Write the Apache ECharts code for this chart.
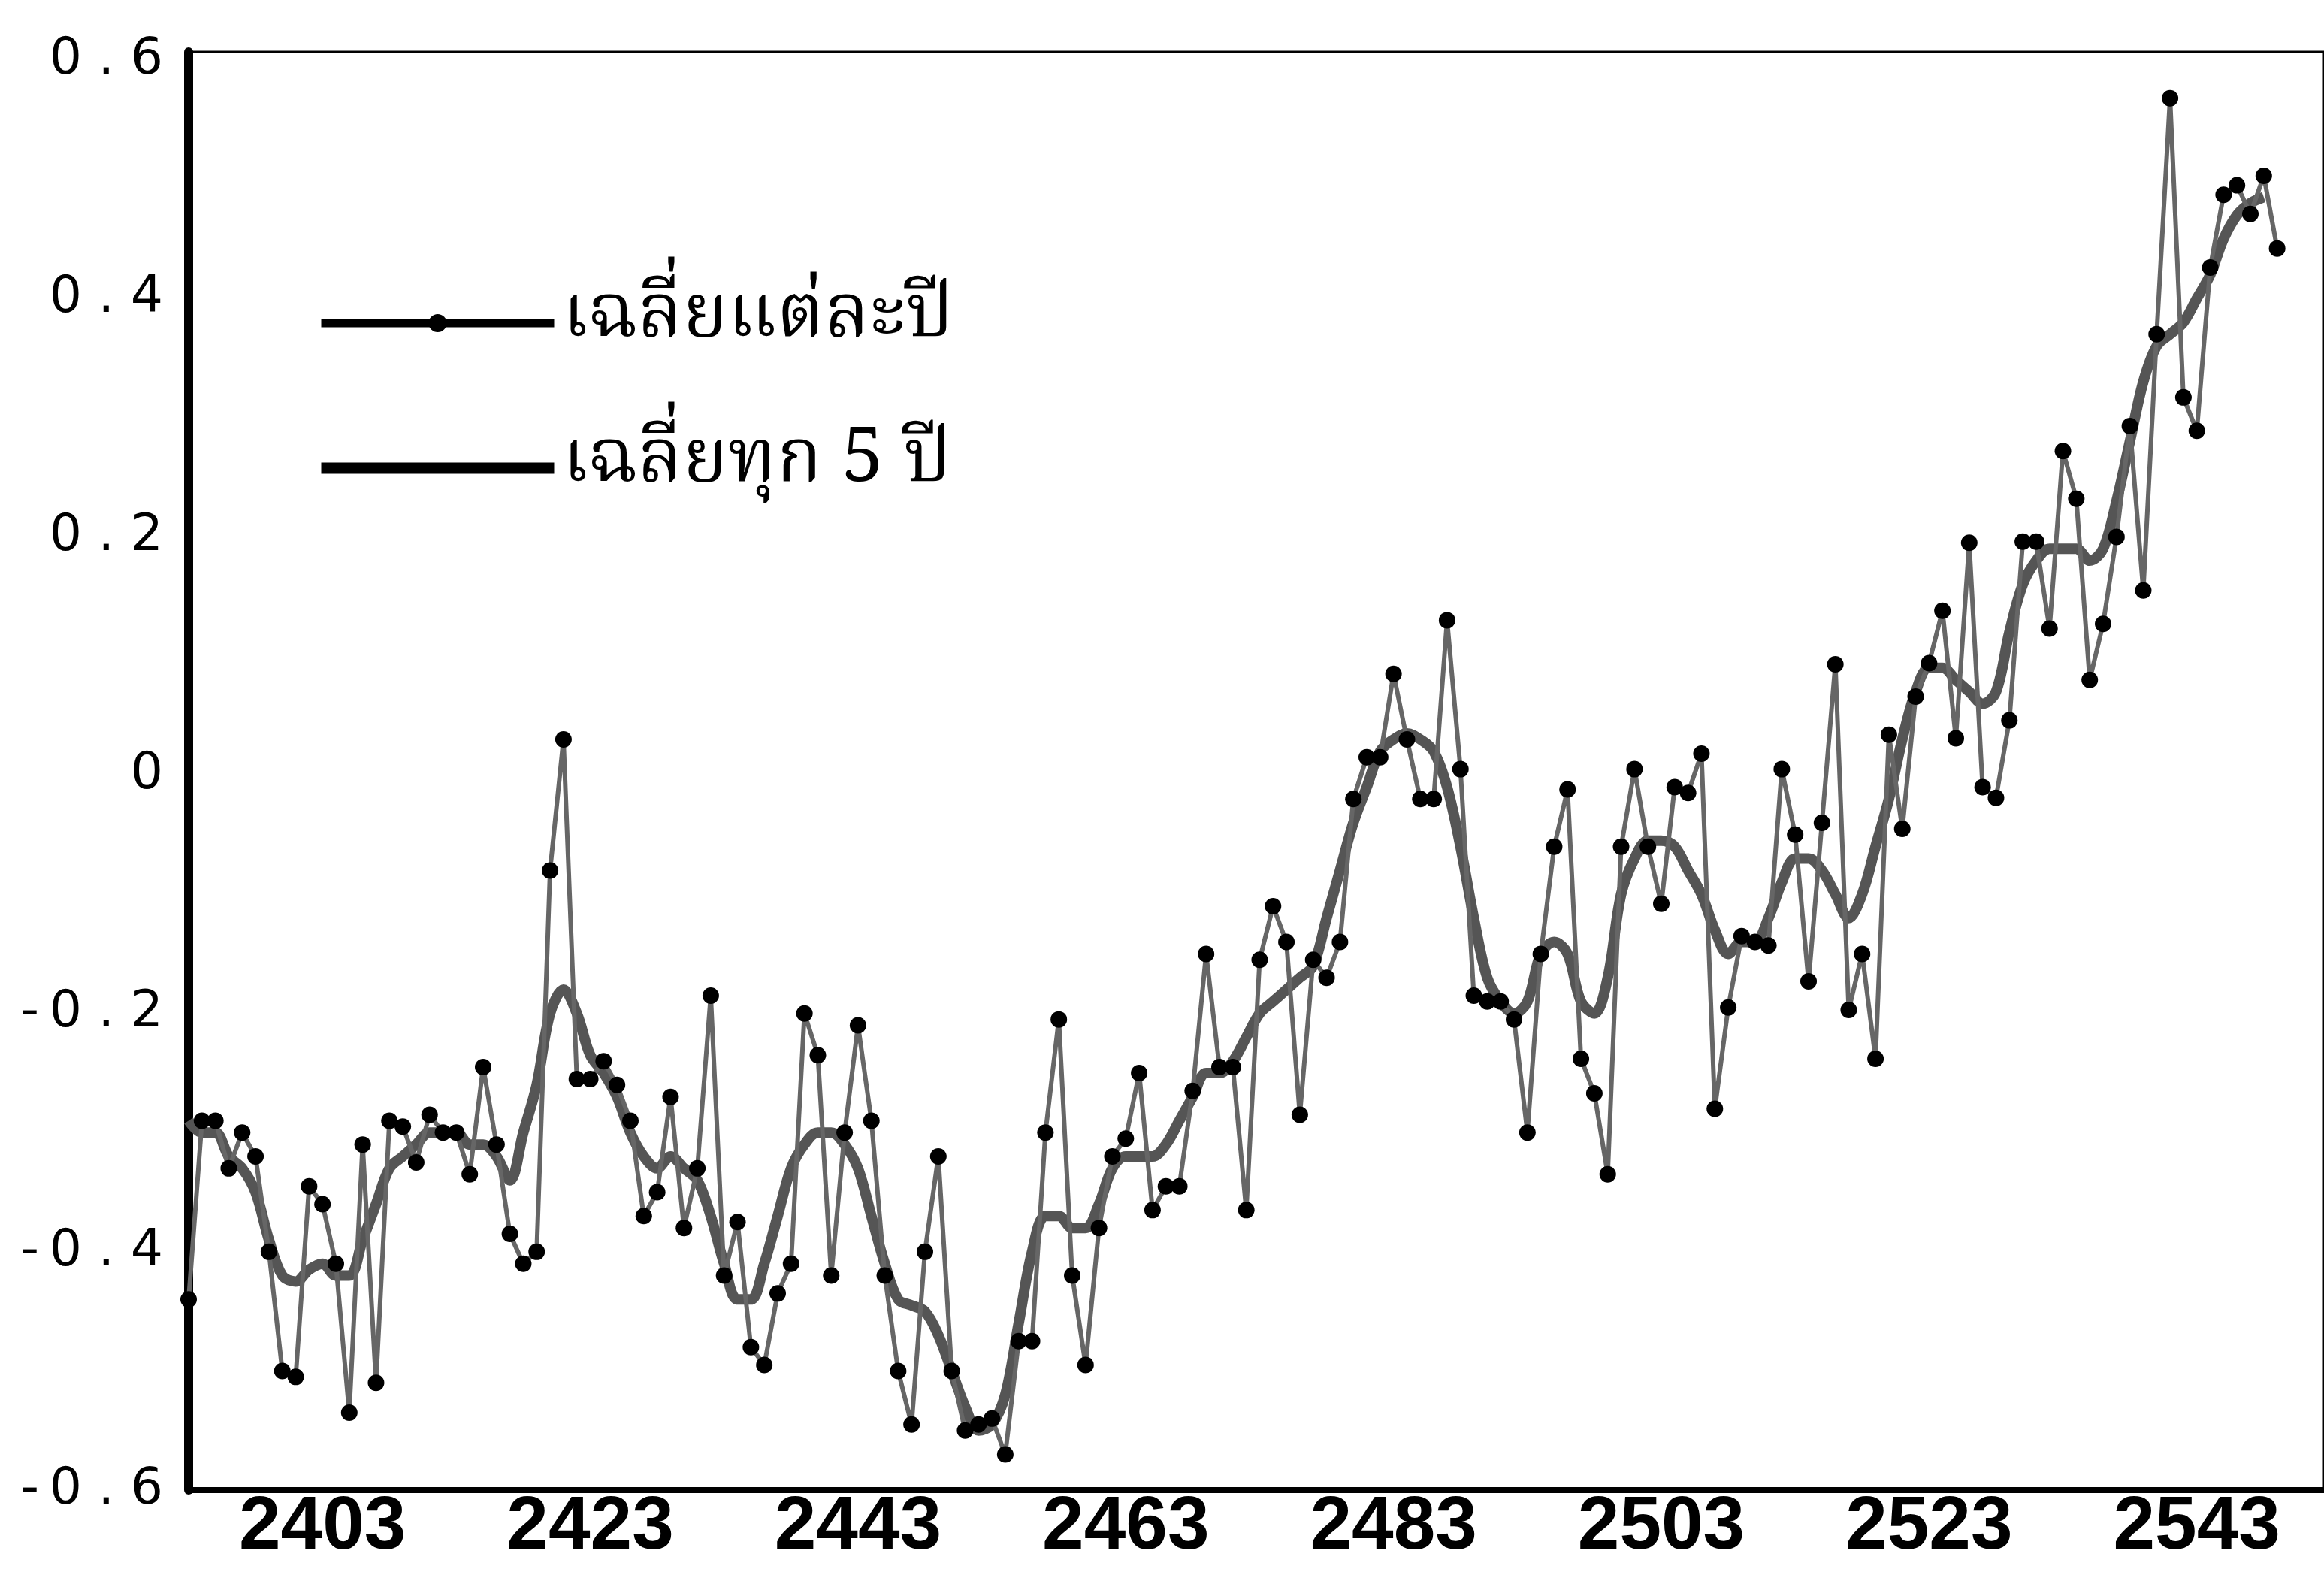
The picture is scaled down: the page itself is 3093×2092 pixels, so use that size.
<!DOCTYPE html>
<html>
	<head>
		<meta charset="utf-8">
		<script type="text/javascript" src="https://cdn.jsdelivr.net/npm/echarts@6/dist/echarts.min.js"></script>
		<style>
			html, body { margin: 0; padding: 0; background: #fff; }
		</style>
	</head>
	<body>
		<div id="main" style="width:3093px;height:2092px;"></div>

		<script type="text/javascript">
			// first year of the series (Thai Buddhist era)
			var firstYear = 2393;

			// annual mean anomaly, one value per year 2393..2549
			var annual = [
				-0.44, -0.29, -0.29, -0.33, -0.30, -0.32, -0.40, -0.50, -0.505, -0.345,
				-0.36, -0.41, -0.535, -0.31, -0.51, -0.29, -0.295, -0.325, -0.285, -0.30,
				-0.30, -0.335, -0.245, -0.31, -0.385, -0.41, -0.40, -0.08, 0.03, -0.255,
				-0.255, -0.24, -0.26, -0.29, -0.37, -0.35, -0.27, -0.38, -0.33, -0.185,
				-0.42, -0.375, -0.48, -0.495, -0.435, -0.41, -0.20, -0.235, -0.42, -0.30,
				-0.21, -0.29, -0.42, -0.50, -0.545, -0.40, -0.32, -0.50, -0.55, -0.545,
				-0.54, -0.57, -0.475, -0.475, -0.30, -0.205, -0.42, -0.495, -0.38, -0.32,
				-0.305, -0.25, -0.365, -0.345, -0.345, -0.265, -0.15, -0.245, -0.245, -0.365,
				-0.155, -0.11, -0.14, -0.285, -0.155, -0.17, -0.14, -0.02, 0.015, 0.015,
				0.085, 0.03, -0.02, -0.02, 0.13, 0.005, -0.185, -0.19, -0.19, -0.205,
				-0.30, -0.15, -0.06, -0.012, -0.238, -0.267, -0.335, -0.06, 0.005, -0.06,
				-0.108, -0.01, -0.015, 0.018, -0.28, -0.195, -0.135, -0.14, -0.143, 0.005,
				-0.05, -0.173, -0.04, 0.093, -0.197, -0.15, -0.238, 0.034, -0.045, 0.066,
				0.094, 0.138, 0.031, 0.195, -0.01, -0.019, 0.046, 0.196, 0.196, 0.123,
				0.272, 0.232, 0.08, 0.127, 0.20, 0.293, 0.155, 0.37, 0.568, 0.317,
				0.289, 0.426, 0.487, 0.495, 0.471, 0.503, 0.442
			];

			// 5-year mean line, same years (null where not drawn)
			var avg5 = [
				-0.29, -0.30, -0.30, -0.32, -0.33, -0.35, -0.39, -0.42, -0.425, -0.415,
				-0.41, -0.42, -0.42, -0.39, -0.36, -0.33, -0.32, -0.31, -0.30, -0.30,
				-0.30, -0.31, -0.31, -0.32, -0.34, -0.30, -0.26, -0.20, -0.18, -0.20,
				-0.235, -0.25, -0.27, -0.30, -0.32, -0.33, -0.32, -0.33, -0.34, -0.37,
				-0.41, -0.44, -0.44, -0.41, -0.37, -0.33, -0.31, -0.30, -0.30, -0.31,
				-0.33, -0.37, -0.41, -0.44, -0.445, -0.45, -0.47, -0.50, -0.53, -0.55,
				-0.545, -0.52, -0.46, -0.40, -0.37, -0.37, -0.38, -0.38, -0.36, -0.33,
				-0.32, -0.32, -0.32, -0.31, -0.29, -0.27, -0.25, -0.25, -0.24, -0.22,
				-0.20, -0.19, -0.18, -0.17, -0.16, -0.12, -0.08, -0.04, -0.01, 0.02,
				0.03, 0.035, 0.03, 0.02, -0.01, -0.06, -0.12, -0.17, -0.19, -0.20,
				-0.19, -0.15, -0.14, -0.15, -0.19, -0.20, -0.17, -0.10, -0.07, -0.055,
				-0.055, -0.06, -0.08, -0.10, -0.13, -0.15, -0.14, -0.14, -0.12, -0.09,
				-0.07, -0.07, -0.08, -0.10, -0.12, -0.10, -0.06, -0.02, 0.03, 0.07,
				0.09, 0.09, 0.08, 0.07, 0.06, 0.07, 0.12, 0.16, 0.18, 0.19,
				0.19, 0.19, 0.18, 0.19, 0.23, 0.28, 0.33, 0.36, 0.37, 0.38,
				0.40, 0.42, 0.45, 0.47, 0.48, 0.485, null
			];

			// x axis tick labels
			var xLabelYears = [2403, 2423, 2443, 2463, 2483, 2503, 2523, 2543];

			var seriesNames = ['เฉลี่ยแต่ละปี', 'เฉลี่ยทุก 5 ปี'];

			var thaiFont = "'Noto Serif Thai', 'Noto Sans Thai', 'Noto Sans Thai Looped', Loma, Garuda, Norasi, serif";

			function toPairs(arr) {
				var out = [];
				for (var i = 0; i < arr.length; i++) {
					out.push([firstYear + i, arr[i]]);
				}
				return out;
			}

			var myChart = echarts.init(document.getElementById('main'), null, { renderer: 'canvas' });

			var option = {
				backgroundColor: '#fff',
				animation: false,
				grid: {
					left: 251,
					right: -6,
					top: 69,
					bottom: 109,
					show: true,
					borderColor: '#000',
					borderWidth: 3
				},
				legend: {
					data: [
						{ name: seriesNames[0], lineStyle: { width: 11, color: '#000' }, itemStyle: { color: '#000' } },
						{ name: seriesNames[1], lineStyle: { width: 15, color: '#000' }, itemStyle: { color: 'rgba(0,0,0,0)', borderWidth: 0 } }
					],
					orient: 'vertical',
					left: 420,
					top: 370,
					padding: 0,
					itemWidth: 310,
					itemHeight: 30,
					itemGap: 73,
					textStyle: {
						fontFamily: thaiFont,
						fontSize: 100,
						lineHeight: 120,
						color: '#000',
						padding: [0, 0, 0, 6]
					}
				},
				xAxis: {
					type: 'value',
					min: firstYear,
					max: 2552.5,
					splitLine: { show: false },
					axisTick: { show: false },
					axisLine: { show: true, onZero: false, lineStyle: { color: '#000', width: 8 } },
					axisLabel: {
						customValues: xLabelYears,
						margin: 0,
						fontFamily: "'Liberation Sans', Arial, sans-serif",
						fontWeight: 'bold',
						fontSize: 100,
						color: '#000',
						formatter: function (v) { return String(v); }
					}
				},
				yAxis: {
					type: 'value',
					min: -0.6,
					max: 0.607,
					interval: 0.2,
					splitLine: { show: false },
					axisTick: { show: false },
					axisLine: { show: true, lineStyle: { color: '#000', width: 12 } },
					axisLabel: {
						margin: 34,
						fontFamily: "'DejaVu Sans', sans-serif",
						fontSize: 68,
						color: '#000',
						formatter: function (v) {
							if (Math.abs(v * 5 - Math.round(v * 5)) > 1e-6) return '';
							if (Math.abs(v) < 1e-9) return '0';
							var s = Math.abs(v).toFixed(1).split('').join(' ');
							return v < 0 ? '-\u2009' + s : s;
						}
					}
				},
				series: [
					{
						name: seriesNames[0],
						type: 'line',
						data: toPairs(annual),
						z: 3,
						symbol: 'circle',
						symbolSize: 22,
						showSymbol: true,
						itemStyle: { color: '#000' },
						lineStyle: { color: '#666', width: 6 }
					},
					{
						name: seriesNames[1],
						type: 'line',
						data: toPairs(avg5),
						z: 2,
						symbol: 'none',
						smooth: 0.35,
						itemStyle: { color: '#000' },
						lineStyle: { color: '#555', width: 14 }
					}
				]
			};

			myChart.setOption(option);
		</script>
	</body>
</html>
